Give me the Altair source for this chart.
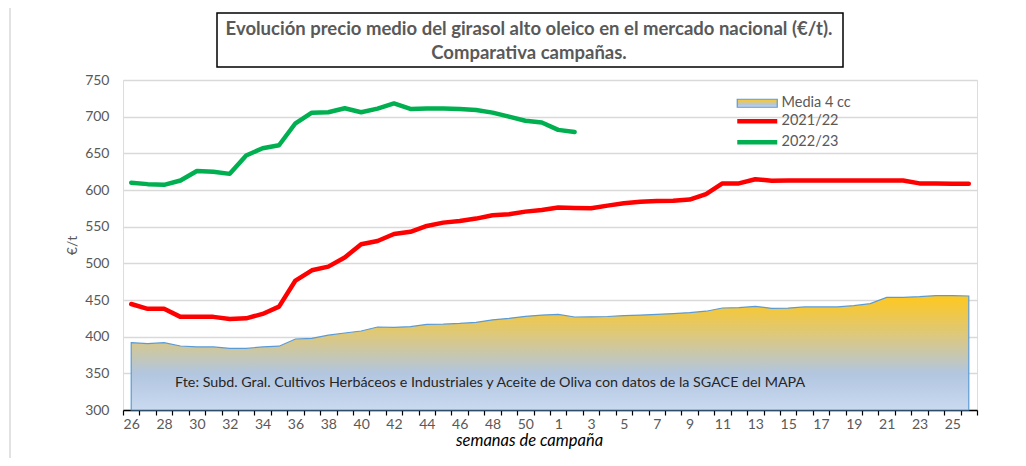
import altair as alt
import pandas as pd

FONT = "Lato"

# Campaign weeks (categories)
weeks = [26, 27, 28, 29, 30, 31, 32, 33, 34, 35, 36, 37, 38, 39, 40, 41, 42, 43, 44, 45, 46, 47, 48, 49, 50, 51,
         1, 2, 3, 4, 5, 6, 7, 8, 9, 10, 11, 12, 13, 14, 15, 16, 17, 18, 19, 20, 21, 22, 23, 24, 25, 26]

# Series values (EUR/t)
media_4cc = [392, 390.5, 391.8, 387.3, 386, 386, 384, 384, 386, 387,
             396.8, 397.7, 402, 405, 407.7, 413.2, 412.7, 413.6, 416.8, 417,
             418, 419.5, 423, 425, 427.7, 429.5, 430.5, 426.8, 427, 427.5,
             428.7, 429.5, 430.5, 431.5, 432.8, 434.7, 439.1, 439.5, 441.4, 438.7,
             439, 440.5, 440.5, 440.5, 442.3, 445, 453.6, 453.6, 454.5, 456,
             456, 455.5]
c2021_22 = [444.5, 438, 438, 427, 427, 427, 424, 425, 431, 441,
            476.5, 490.5, 495.5, 508, 526, 530.5, 540, 543, 551, 555.5,
            557.7, 561, 565.5, 567, 570.5, 572.7, 576, 575.5, 575, 578.7,
            581.8, 584, 585, 585.5, 587, 594.5, 609, 609, 614.6, 612.7,
            613, 613, 613, 613, 613, 613, 613, 613, 609, 609,
            608.5, 608.5]
c2022_23 = [610, 608, 607, 613, 626, 625, 622, 647, 657, 661,
            691, 705.5, 706, 711.4, 706, 711, 718, 710.5, 711, 711,
            710.5, 709, 705.5, 700, 694.5, 692, 682, 679]

series_names = ["Media 4 cc", "2021/22", "2022/23"]
series_colors = ["#5B9BD5", "#FF0000", "#00B050"]
y_ticks = [300, 350, 400, 450, 500, 550, 600, 650, 700, 750]

title_line1 = "Evolución precio medio del girasol alto oleico en el mercado nacional (€/t)."
title_line2 = "Comparativa campañas."
source_text = "Fte: Subd. Gral. Cultivos Herbáceos e Industriales y Aceite de Oliva con datos de la SGACE del MAPA"

# ---- tables
area_df = pd.DataFrame({"idx": list(range(len(weeks))), "value": media_4cc, "serie": series_names[0]})
rows = []
for i, v in enumerate(c2021_22):
    rows.append({"idx": i, "value": v, "serie": series_names[1]})
for i, v in enumerate(c2022_23):
    rows.append({"idx": i, "value": v, "serie": series_names[2]})
line_df = pd.DataFrame(rows)
one_df = pd.DataFrame({"k": [0]})

n = len(weeks)
x_scale = alt.Scale(domain=[-0.5, n - 0.5], nice=False, zero=False)
y_scale = alt.Scale(domain=[300, 750], nice=False, zero=False)
color_scale = alt.Scale(domain=series_names, range=series_colors)

label_arr = "[" + ",".join("'%d'" % w for w in weeks) + "]"
x_axis = alt.Axis(
    values=[i / 2 - 0.5 for i in range(2 * n + 1)],
    labelExpr="(datum.value % 2 === 0) ? " + label_arr + "[datum.value] : ''",
    tickOpacity={"condition": {"test": "datum.value % 1 === 0", "value": 0}, "value": 1},
    tickColor="black", tickSize=5, tickWidth=1.2,
    domainColor="black", domainWidth=1.5, grid=False,
    labelColor="#595959", labelFontSize=14, labelFont=FONT, labelPadding=2,
    labelOverlap=False, labelBound=False, labelFlush=False,
    title="semanas de campaña", titleFont=FONT, titleFontSize=16.5, titleFontStyle="italic",
    titleFontWeight="normal", titleColor="black", titleX=406, titleY=35,
    titleAlign="center", titleBaseline="alphabetic",
)
y_axis = alt.Axis(
    values=y_ticks, grid=True, gridColor="#D9D9D9", gridWidth=1.5, ticks=False, domain=False,
    labelColor="#595959", labelFontSize=14, labelFont=FONT, labelPadding=14,
    title="€/t", titleFont=FONT, titleFontSize=14, titleFontWeight="normal", titleColor="#595959",
    titleX=-51, titleY=165, titleAlign="center", titleBaseline="middle",
)

legend = alt.Legend(
    orient="none", legendX=627, legendY=16, title=None, padding=0,
    symbolType={"expr": "datum.value == 'Media 4 cc' ? 'M-4,-0.8L4,-0.8L4,0.8L-4,0.8Z' : 'M-4,0L4,0'"},
    symbolSize=100,
    symbolStrokeWidth={"expr": "datum.value == 'Media 4 cc' ? 1.2 : 4.5"},
    symbolFillColor={"expr": "datum.value == 'Media 4 cc' ? '#E6C560' : 'transparent'"},
    labelFont=FONT, labelFontSize=14.5, labelColor="#595959", labelOffset=17, rowPadding=2,
)

gradient = alt.Gradient(
    gradient="linear", x1=0, x2=0, y1=0, y2=1,
    stops=[
        alt.GradientStop(offset=0, color="#FFC81E"),
        alt.GradientStop(offset=0.35, color="#DCC87E"),
        alt.GradientStop(offset=0.68, color="#B2C6E0"),
        alt.GradientStop(offset=1, color="#C9D9F0"),
    ],
)

outer_border = alt.Chart(one_df).mark_rect(fillOpacity=0, stroke="#D9D9D9", strokeWidth=1.5).encode(
    x=alt.value(-113), x2=alt.value(901), y=alt.value(-73), y2=alt.value(395)
)
title_box = alt.Chart(one_df).mark_rect(fillOpacity=0, stroke="black", strokeWidth=1.5).encode(
    x=alt.value(94), x2=alt.value(720), y=alt.value(-67), y2=alt.value(-13)
)
title_t1 = alt.Chart(one_df).mark_text(
    text=title_line1, font=FONT, fontSize=18.5, fontWeight="bold", color="#595959",
    align="center", baseline="middle"
).encode(x=alt.value(406), y=alt.value(-51))
title_t2 = alt.Chart(one_df).mark_text(
    text=title_line2, font=FONT, fontSize=18.5, fontWeight="bold", color="#595959",
    align="center", baseline="middle"
).encode(x=alt.value(406), y=alt.value(-27))

area = alt.Chart(area_df).mark_area(fill=gradient, strokeWidth=1.2, interpolate="linear").encode(
    x=alt.X("idx:Q", scale=x_scale, axis=x_axis),
    y=alt.Y("value:Q", scale=y_scale, axis=y_axis),
    y2=alt.datum(300),
    stroke=alt.Stroke("serie:N", scale=color_scale, legend=legend),
)

lines = alt.Chart(line_df).mark_line(strokeWidth=4.5, strokeCap="round", strokeJoin="round").encode(
    x=alt.X("idx:Q", scale=x_scale, axis=x_axis),
    y=alt.Y("value:Q", scale=y_scale, axis=y_axis),
    stroke=alt.Stroke("serie:N", scale=color_scale, legend=legend),
    order="idx:Q",
)

src = alt.Chart(one_df).mark_text(
    text=source_text, font=FONT, fontSize=14.3, color="#262626", align="left", baseline="middle"
).encode(x=alt.value(52), y=alt.value(303))

chart = alt.layer(outer_border, title_box, title_t1, title_t2, area, lines, src).properties(
    width=854, height=330,
    autosize=alt.AutoSizeParams(type="none"),
    padding={"left": 115, "top": 72, "right": 41, "bottom": 48},
).configure_view(stroke="black", strokeWidth=1.5).configure(background="white")

chart.save("out.html", embed_options={"renderer": "svg", "actions": False})
